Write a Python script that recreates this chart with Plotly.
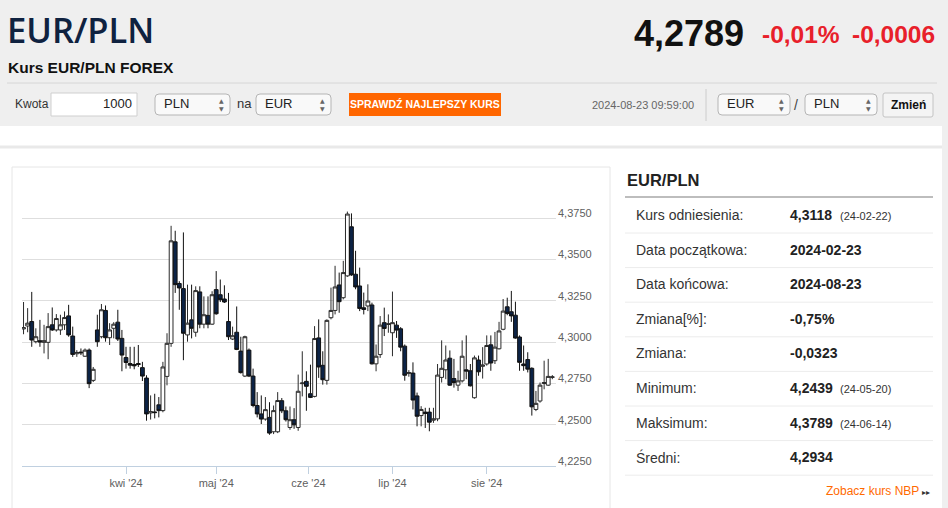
import pandas as pd
import plotly.graph_objects as go

W, H = 948, 508

# --- data ------------------------------------------------------------------
dates = pd.bdate_range("2024-02-23", "2024-08-23")

opens = [4.3095, 4.3079, 4.3097, 4.3124, 4.3002, 4.3008, 4.2998, 4.2998, 4.3104, 4.3073,
         4.3073, 4.3104, 4.3158, 4.3036, 4.2929, 4.2939, 4.2914, 4.2951, 4.2768, 4.3073,
         4.3032, 4.3191, 4.3026, 4.3083, 4.3120, 4.3022, 4.2906, 4.2870, 4.2864, 4.2870,
         4.2845, 4.2782, 4.2571, 4.2577, 4.2620, 4.2585, 4.2792, 4.2992, 4.3606, 4.3354,
         4.3323, 4.3043, 4.3134, 4.3059, 4.3303, 4.3108, 4.3161, 4.3108, 4.3317, 4.3286,
         4.3260, 4.3124, 4.3018, 4.3059, 4.2945, 4.2794, 4.2951, 4.2794, 4.2616, 4.2565,
         4.2534, 4.2544, 4.2457, 4.2457, 4.2645, 4.2584, 4.2483, 4.2530, 4.2483, 4.2748,
         4.2762, 4.2687, 4.2671, 4.3025, 4.2859, 4.2768, 4.3147, 4.3191, 4.3345, 4.3268,
         4.3400, 4.3697, 4.3410, 4.3339, 4.3207, 4.3218, 4.3224, 4.2868, 4.2924, 4.3117,
         4.3106, 4.3056, 4.3102, 4.3080, 4.2975, 4.2810, 4.2812, 4.2674, 4.2555, 4.2576,
         4.2576, 4.2527, 4.2535, 4.2786, 4.2832, 4.2902, 4.2779, 4.2739, 4.2765, 4.2832,
         4.2826, 4.2663, 4.2891, 4.2853, 4.2867, 4.2983, 4.2887, 4.2959, 4.3077, 4.3213,
         4.3183, 4.3162, 4.3030, 4.2867, 4.2894, 4.2841, 4.2592, 4.2643, 4.2749, 4.2739,
         4.2786]
highs = [4.3190, 4.3242, 4.3205, 4.3303, 4.3083, 4.3134, 4.3104, 4.3175, 4.3209, 4.3169,
         4.3165, 4.3185, 4.3225, 4.3093, 4.2951, 4.2961, 4.2961, 4.2961, 4.2849, 4.3165,
         4.3230, 4.3221, 4.3114, 4.3120, 4.3195, 4.3073, 4.2971, 4.2971, 4.2971, 4.2982,
         4.2880, 4.2799, 4.2677, 4.2687, 4.2667, 4.2880, 4.3053, 4.3703, 4.3673, 4.3368,
         4.3663, 4.3347, 4.3347, 4.3337, 4.3337, 4.3276, 4.3276, 4.3307, 4.3429, 4.3378,
         4.3343, 4.3297, 4.3093, 4.3215, 4.3032, 4.3038, 4.2961, 4.2839, 4.2697, 4.2677,
         4.2667, 4.2636, 4.2616, 4.2697, 4.2661, 4.2610, 4.2610, 4.2600, 4.2803, 4.2944,
         4.2823, 4.2863, 4.3096, 4.3137, 4.2944, 4.3137, 4.3329, 4.3461, 4.3420, 4.3491,
         4.3789, 4.3778, 4.3552, 4.3450, 4.3299, 4.3349, 4.3238, 4.2985, 4.3157, 4.3208,
         4.3167, 4.3305, 4.3127, 4.3090, 4.2985, 4.2830, 4.2877, 4.2694, 4.2612, 4.2602,
         4.2602, 4.2602, 4.2867, 4.3010, 4.2979, 4.2949, 4.2898, 4.2826, 4.3010, 4.3040,
         4.2867, 4.2918, 4.2918, 4.2969, 4.3040, 4.3040, 4.3061, 4.3122, 4.3260, 4.3268,
         4.3309, 4.3244, 4.3040, 4.2979, 4.2938, 4.2847, 4.2704, 4.2755, 4.2887, 4.2898,
         4.2800]
lows = [4.3050, 4.3047, 4.3059, 4.2971, 4.2992, 4.2971, 4.2931, 4.2896, 4.3067, 4.3063,
        4.3043, 4.3073, 4.3032, 4.2910, 4.2910, 4.2921, 4.2910, 4.2721, 4.2758, 4.2971,
        4.3022, 4.3002, 4.2982, 4.3022, 4.3006, 4.2823, 4.2839, 4.2839, 4.2835, 4.2849,
        4.2764, 4.2524, 4.2531, 4.2538, 4.2544, 4.2575, 4.2738, 4.2971, 4.3297, 4.3195,
        4.2890, 4.3002, 4.3022, 4.3032, 4.3083, 4.3083, 4.3083, 4.3104, 4.3165, 4.3242,
        4.3236, 4.3012, 4.3012, 4.2951, 4.2809, 4.2788, 4.2788, 4.2605, 4.2544, 4.2504,
        4.2524, 4.2439, 4.2443, 4.2449, 4.2570, 4.2519, 4.2469, 4.2475, 4.2463, 4.2671,
        4.2584, 4.2661, 4.2665, 4.2783, 4.2742, 4.2742, 4.3137, 4.3167, 4.3177, 4.3258,
        4.3394, 4.3400, 4.3319, 4.3187, 4.3167, 4.3187, 4.2864, 4.2823, 4.2904, 4.3036,
        4.3056, 4.2914, 4.3025, 4.2944, 4.2766, 4.2790, 4.2592, 4.2490, 4.2490, 4.2480,
        4.2460, 4.2511, 4.2521, 4.2755, 4.2775, 4.2735, 4.2724, 4.2704, 4.2755, 4.2775,
        4.2731, 4.2657, 4.2796, 4.2779, 4.2857, 4.2826, 4.2867, 4.2955, 4.3071, 4.3162,
        4.3122, 4.3020, 4.2826, 4.2826, 4.2816, 4.2555, 4.2582, 4.2633, 4.2714, 4.2735,
        4.2775]
closes = [4.3080, 4.3087, 4.3114, 4.3012, 4.3032, 4.3000, 4.3008, 4.3093, 4.3073, 4.3142,
          4.3104, 4.3148, 4.3043, 4.2925, 4.2937, 4.2935, 4.2951, 4.2748, 4.2835, 4.3002,
          4.3195, 4.3026, 4.3073, 4.3108, 4.3018, 4.2921, 4.2876, 4.2860, 4.2856, 4.2864,
          4.2794, 4.2565, 4.2579, 4.2573, 4.2585, 4.2849, 4.2992, 4.3612, 4.3347, 4.3327,
          4.3053, 4.3114, 4.3083, 4.3311, 4.3108, 4.3165, 4.3108, 4.3286, 4.3171, 4.3256,
          4.3242, 4.3032, 4.3038, 4.2955, 4.2815, 4.3032, 4.2794, 4.2616, 4.2565, 4.2534,
          4.2591, 4.2449, 4.2585, 4.2646, 4.2584, 4.2530, 4.2530, 4.2499, 4.2702, 4.2752,
          4.2732, 4.2665, 4.3021, 4.2849, 4.2772, 4.3131, 4.3191, 4.3333, 4.3244, 4.3420,
          4.3774, 4.3406, 4.3333, 4.3203, 4.3197, 4.3248, 4.2868, 4.2914, 4.3102, 4.3082,
          4.3110, 4.3117, 4.3072, 4.2969, 4.2799, 4.2815, 4.2649, 4.2551, 4.2592, 4.2568,
          4.2515, 4.2535, 4.2800, 4.2841, 4.2891, 4.2739, 4.2755, 4.2765, 4.2914, 4.2824,
          4.2735, 4.2904, 4.2820, 4.2861, 4.2979, 4.2873, 4.2969, 4.3067, 4.3187, 4.3173,
          4.3158, 4.3024, 4.2877, 4.2857, 4.2836, 4.2608, 4.2629, 4.2739, 4.2755, 4.2792,
          4.2789]

month_ticks = ["2024-04-01", "2024-05-01", "2024-05-31 12:00", "2024-07-01", "2024-08-01"]
month_labels = ["kwi '24", "maj '24", "cze '24", "lip '24", "sie '24"]
price_ticks = [4.225, 4.25, 4.275, 4.30, 4.325, 4.35, 4.375, 4.40]

stat_labels = ["Kurs odniesienia:", "Data początkowa:", "Data końcowa:", "Zmiana[%]:",
               "Zmiana:", "Minimum:", "Maksimum:", "Średni:"]
stat_values = ["4,3118", "2024-02-23", "2024-08-23", "-0,75%", "-0,0323", "4,2439",
               "4,3789", "4,2934"]
stat_dates = ["(24-02-22)", "", "", "", "", "(24-05-20)", "(24-06-14)", ""]

# --- helpers for the page around the chart ---------------------------------
FONT = "Liberation Sans"
shapes, notes = [], []


def px(x):
    return x / W


def py(y):
    return 1 - y / H


def text(x, y, s, size, color="#333333", bold=False, anchor="left", family=FONT, weight=None):
    f = dict(size=size, color=color, family=family)
    if weight:
        f["weight"] = weight
    notes.append(dict(xref="paper", yref="paper", x=px(x), y=py(y), showarrow=False,
                      text="<b>%s</b>" % s if bold else s, xanchor=anchor, yanchor="middle",
                      font=f))


def rect(x0, y0, x1, y1, fill="rgba(0,0,0,0)", line="rgba(0,0,0,0)", lw=1):
    shapes.append(dict(type="rect", xref="paper", yref="paper", layer="below",
                       x0=px(x0), x1=px(x1), y0=py(y1), y1=py(y0),
                       fillcolor=fill, line=dict(color=line, width=lw)))


def hline(x0, x1, y, color, lw=1):
    shapes.append(dict(type="line", xref="paper", yref="paper", x0=px(x0), x1=px(x1),
                       y0=py(y), y1=py(y), line=dict(color=color, width=lw)))


def vline(x, y0, y1, color, lw=1):
    shapes.append(dict(type="line", xref="paper", yref="paper", x0=px(x), x1=px(x),
                       y0=py(y0), y1=py(y1), line=dict(color=color, width=lw)))


def rrect(x0, y0, x1, y1, r=4, fill="#ffffff", line="#b5b5b5"):
    rx, ry = r / W, r / H
    a, b, c, d = px(x0), px(x1), py(y0), py(y1)
    path = (f"M{a+rx},{c} L{b-rx},{c} Q{b},{c} {b},{c-ry} L{b},{d+ry} Q{b},{d} {b-rx},{d} "
            f"L{a+rx},{d} Q{a},{d} {a},{d+ry} L{a},{c-ry} Q{a},{c} {a+rx},{c} Z")
    shapes.append(dict(type="path", xref="paper", yref="paper", path=path,
                       fillcolor=fill, line=dict(color=line, width=1)))


def select(x0, x1, label):
    rrect(x0, 94, x1, 115, fill="#f9f9f9")
    text(x0 + 7, 104, label, 13, "#222222")
    text(x1 - 9, 101, "▲", 6, "#666666", anchor="center", family="DejaVu Sans")
    text(x1 - 9, 108, "▼", 6, "#666666", anchor="center", family="DejaVu Sans")


# header block
rect(0, 0, W, 126, fill="#efefef")
text(5, 29, "EUR/PLN", 34.5, "#0f2240", family="Open Sans", weight=600)
text(6, 67, "Kurs EUR/PLN FOREX", 15.5, "#111111", bold=True)
hline(7, 937, 83, "#d6d6d6")
text(746, 33, "4,2789", 36, "#111111", bold=True, anchor="right")
text(760, 35, "-0,01%", 24.5, "#e8202a", bold=True)
text(850, 35, "-0,0006", 24.5, "#e8202a", bold=True)

text(13, 104, "Kwota", 12, "#333333")
rect(51, 93, 137, 116, fill="#ffffff", line="#cfcfcf")
text(134, 104, "1000", 13, "#222222", anchor="right")
select(155, 230, "PLN")
text(235, 104, "na", 13, "#333333")
select(256, 331, "EUR")
rect(349, 93, 501, 116, fill="#ff6600")
text(425, 104.5, "SPRAWDŹ NAJLEPSZY KURS", 10.5, "#ffffff", bold=True, anchor="center")
text(696, 105, "2024-08-23 09:59:00", 11, "#666666", anchor="right")
vline(706, 89, 121, "#cccccc")
select(718, 790, "EUR")
text(796, 105, "/", 14, "#444444", anchor="center")
select(805, 877, "PLN")
rrect(883, 93, 933, 117, r=2, fill="#f4f4f4", line="#c4c4c4")
text(908, 105, "Zmień", 12, "#111111", bold=True, anchor="center")

# page frame
hline(0, 942, 147, "#e9e9e9", lw=3)
rect(942, 126, W, H, fill="#efefef")
rect(12, 167, 610, H + 5, line="#e6e6e6")

# statistics panel
text(625, 180, "EUR/PLN", 16.5, "#222222", bold=True)
hline(625, 933, 197, "#bdbdbd", lw=2)
for i, (lab, val, dt) in enumerate(zip(stat_labels, stat_values, stat_dates)):
    yc = 215 + i * 34.6
    text(634, yc, lab, 14, "#333333")
    text(788, yc, val, 14, "#222222", bold=True)
    if dt:
        text(838, yc + 1, dt, 11, "#333333")
    hline(625, 933, yc + 18, "#ececec")
text(921, 491, "Zobacz kurs NBP", 12, "#ff6a00", anchor="right")
text(932, 492, "▸▸", 8, "#333333", anchor="right", family="DejaVu Sans")

# --- chart -----------------------------------------------------------------
fig = go.Figure(go.Candlestick(
    x=dates, open=opens, high=highs, low=lows, close=closes,
    increasing=dict(fillcolor="#ffffff", line=dict(color="#2a2a2a", width=1)),
    decreasing=dict(fillcolor="#0c2346", line=dict(color="#111111", width=1)),
    whiskerwidth=0, hoverinfo="x+y"))

fig.update_layout(
    width=W, height=H, margin=dict(l=0, r=0, t=0, b=0),
    paper_bgcolor="#ffffff", plot_bgcolor="#ffffff",
    showlegend=False, separators=", ", boxgap=0.08, boxgroupgap=0,
    shapes=shapes, annotations=notes,
    font=dict(family=FONT, color="#606060", size=11),
    xaxis=dict(domain=[px(22), px(556)], type="date",
               rangebreaks=[dict(bounds=["sat", "mon"])],
               range=["2024-02-23 15:00", "2024-08-23 21:30"],
               rangeslider=dict(visible=False),
               tickvals=month_ticks, ticktext=month_labels,
               ticks="outside", ticklen=7, tickcolor="#c0d0e0",
               showline=True, linecolor="#c0d0e0", linewidth=1,
               showgrid=False, zeroline=False,
               tickfont=dict(size=11, color="#606060", family=FONT)),
    yaxis=dict(domain=[py(466), py(176.7)], side="right", range=[4.225, 4.40],
               tickvals=price_ticks,
               ticktext=[("%.4f" % v).replace(".", ",") if v < 4.39 else "" for v in price_ticks],
               showgrid=True, gridcolor="#dedede", gridwidth=1, zeroline=False,
               ticks="", ticklabelshift=-5, ticklabelstandoff=1,
               tickfont=dict(size=11, color="#606060", family=FONT)),
)

fig.write_html("out.html", config={"displayModeBar": False},
               post_script="document.body.style.margin='0px';")
